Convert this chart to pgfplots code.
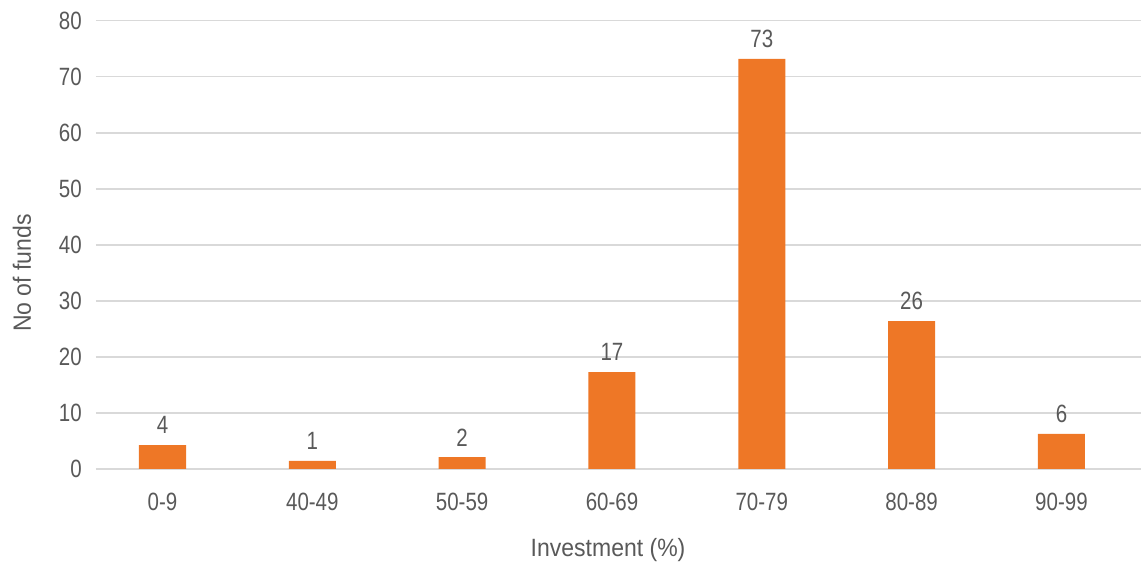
\documentclass[border=0pt]{standalone}
\usepackage{fontspec}
\setmainfont{Liberation Sans}[FakeStretch=0.82]
\newfontfamily\labelfont{Liberation Sans}[FakeStretch=0.92]
\usepackage{pgfplots}
\pgfplotsset{compat=1.18}
\definecolor{barorange}{RGB}{238,119,38}
\definecolor{txtgray}{RGB}{89,89,89}
\definecolor{gridgray}{RGB}{217,217,217}
\begin{document}
\fontsize{25}{30}\selectfont
\begin{tikzpicture}
\begin{axis}[
  name=ax,
  scale only axis,
  width=1045pt, height=448.3pt,
  xmin=-0.4438, xmax=6.531,
  ymin=0, ymax=80,
  ytick={0,10,...,80},
  xtick=data,
  xticklabels={0-9,40-49,50-59,60-69,70-79,80-89,90-99},
  ymajorgrids,
  grid style={gridgray, line width=1.5pt},
  axis line style={draw=none},
  tick style={draw=none},
  every tick label/.append style={font=\fontsize{25}{30}\selectfont, text=txtgray},
  xticklabel style={anchor=north, inner sep=0pt, yshift=-24pt},
  yticklabel style={anchor=east, inner sep=0pt, xshift=-14pt},
  /pgf/number format/assume math mode=true,
  xlabel={Investment (\%)},
  ylabel={No of funds},
  label style={font=\labelfont\fontsize{25}{30}\selectfont, text=txtgray, inner sep=0pt},
  xlabel style={at={(axis description cs:0.49,-0.1807)}, anchor=center},
  ylabel style={at={(axis description cs:-0.0708,0.437)}, anchor=center},
  clip=false,
]
\addplot[ybar, bar width=0.314, fill=barorange, draw=none,
  point meta=explicit symbolic,
  nodes near coords,
  every node near coord/.append style={anchor=south, inner sep=0pt, yshift=11pt, text=txtgray, font=\fontsize{25}{30}\selectfont}]
  coordinates {
  (0,4.28) [4]
  (1,1.43) [1]
  (2,2.1) [2]
  (3,17.3) [17]
  (4,73.2) [73]
  (5,26.4) [26]
  (6,6.25) [6]
};
\end{axis}
\pgfresetboundingbox
\path[use as bounding box] ([xshift=-96pt,yshift=-98pt]ax.south west) rectangle ([yshift=20.7pt]ax.north east);
\end{tikzpicture}
\end{document}
